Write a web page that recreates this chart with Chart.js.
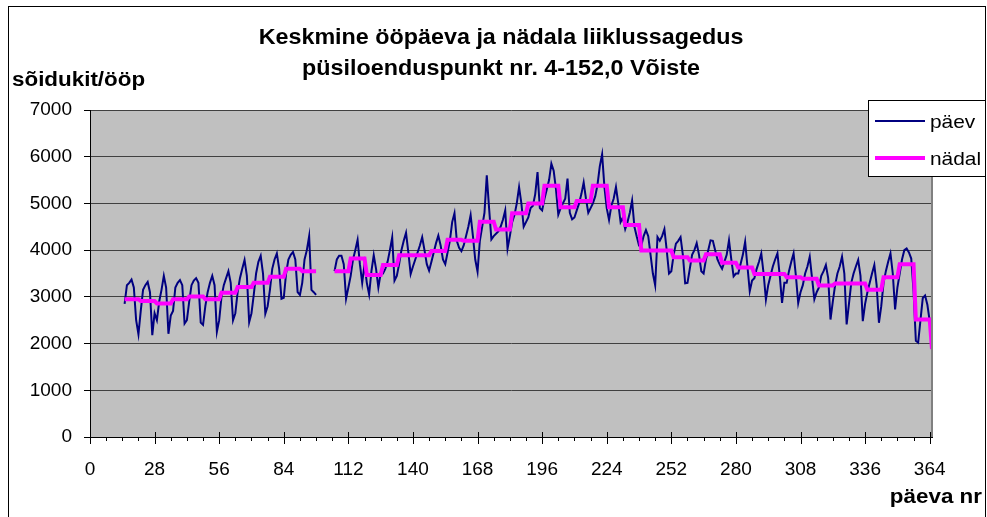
<!DOCTYPE html>
<html>
<head>
<meta charset="utf-8">
<title>Keskmine ööpäeva ja nädala liiklussagedus</title>
<script src="https://cdn.jsdelivr.net/npm/chart.js"></script>
<style>
  html, body { margin: 0; padding: 0; background: #fff; }
  #wrap { width: 987px; height: 517px; }
</style>
</head>
<body>
<div id="wrap"><canvas id="trafficChart" width="987" height="517"></canvas></div>
<script>
// päevad 15..365, päev 99-105 puudub
const firstDay = 15;

const paev = [
    2850, 3250, 3300, 3370, 3200, 2500, 2200,
    2700, 3150, 3250, 3320, 3100, 2180, 2650,
    2500, 2900, 3150, 3450, 3200, 2210, 2600,
    2700, 3200, 3300, 3360, 3250, 2430, 2500,
    2900, 3250, 3350, 3400, 3300, 2450, 2400,
    2800, 3100, 3300, 3450, 3250, 2250, 2500,
    3000, 3250, 3400, 3550, 3300, 2500, 2650,
    3100, 3400, 3600, 3790, 3450, 2460, 2650,
    3050, 3500, 3750, 3880, 3500, 2640, 2800,
    3150, 3600, 3800, 3930, 3600, 2960, 2980,
    3500, 3800, 3900, 3960, 3800, 3100, 3040,
    3300, 3800, 4000, 4300, 3150, 3100, 3040,
    null, null, null, null, null, null, null,
    3550, 3800, 3880, 3880, 3700, 2960, 3200,
    3450, 3800, 4000, 4220, 3700, 3300, 3700,
    3300, 3050, 3550, 3890, 3600, 3200, 3500,
    3500, 3600, 3750, 4000, 4275, 3350, 3450,
    3700, 4000, 4200, 4370, 3950, 3490, 3650,
    3800, 3950, 4100, 4275, 4000, 3700, 3560,
    3750, 3950, 4150, 4310, 4100, 3800, 3700,
    3950, 4200, 4600, 4790, 4200, 4050, 3980,
    4100, 4300, 4500, 4750, 4300, 3800, 3540,
    4200, 4500, 4800, 5600, 4900, 4230, 4300,
    4350, 4400, 4500, 4650, 4850, 4030, 4300,
    4600, 4750, 5000, 5350, 5000, 4500, 4600,
    4700, 4900, 4950, 5200, 5670, 4900, 4850,
    5100, 5300, 5500, 5850, 5700, 5300, 4760,
    4900, 5000, 5100, 5530, 4800, 4660, 4700,
    4850, 5000, 5200, 5450, 5100, 4800, 4900,
    5000, 5150, 5400, 5800, 6050, 5350, 4900,
    4650, 4950, 5100, 5350, 5000, 4600, 4700,
    4450, 4600, 4800, 5060, 4500, 4290, 4100,
    4100, 4300, 4430, 4300, 3900, 3500, 3250,
    4280, 4200, 4300, 4450, 4000, 3500, 3550,
    3900, 4140, 4200, 4280, 3900, 3290, 3300,
    3600, 3900, 4000, 4150, 3900, 3550, 3500,
    3800, 4000, 4210, 4200, 4000, 3800, 3690,
    3600, 3750, 3900, 4210, 3800, 3440, 3500,
    3500, 3700, 3900, 4180, 3650, 3120, 3350,
    3400, 3600, 3750, 3930, 3500, 2940, 3250,
    3450, 3650, 3800, 3930, 3450, 2870, 3300,
    3300, 3550, 3750, 3930, 3450, 2870, 3100,
    3250, 3500, 3650, 3860, 3400, 2950, 3100,
    3200, 3450, 3550, 3680, 3400, 2515, 2900,
    3250, 3500, 3650, 3860, 3500, 2410, 2850,
    3300, 3500, 3650, 3790, 3450, 2480, 2850,
    3100, 3300, 3500, 3680, 3250, 2445, 2800,
    3300, 3550, 3750, 3930, 3500, 2730, 3200,
    3500, 3800, 4000, 4035, 3950, 3820, 3120,
    2060, 2020, 2500, 2975, 3030, 2830, 2480,
    1900
];

// nädala keskmised, nädal 3..53 (nädal n = päevad 7n-6 .. 7n)
const firstWeek = 3;
const nadal = [
    2950, 2910, 2860, 2950, 3010, 2950, 3090, 3210, 3300, 3430, 3600, 3550,
    null,
    3550, 3820, 3470, 3680, 3890, 3890, 3980, 4220, 4200, 4610, 4440, 4790,
    5000, 5380, 4920, 5050, 5380, 4920, 4540, 3990, 3990, 3850, 3780, 3910,
    3730, 3630, 3490, 3490, 3420, 3385, 3245, 3285, 3285, 3150, 3420, 3700,
    2515, 1880
];

const xTicks = [0, 28, 56, 84, 112, 140, 168, 196, 224, 252, 280, 308, 336, 364];
const yTicks = [0, 1000, 2000, 3000, 4000, 5000, 6000, 7000];

const FONT = '"Liberation Sans", Arial, sans-serif';

const dailyPoints = paev.map((v, i) => ({ x: firstDay + i, y: v }));
const weeklyPoints = paev.map((v, i) => {
    const day = firstDay + i;
    const w = Math.ceil(day / 7);
    return { x: day, y: nadal[w - firstWeek] };
});

function drawText(ctx, text, x, y, font, align, sx) {
    ctx.save();
    ctx.font = font;
    ctx.fillStyle = '#000';
    ctx.textAlign = align;
    ctx.textBaseline = 'alphabetic';
    ctx.translate(x, y);
    ctx.scale(sx, 1);
    ctx.fillText(text, 0, 0);
    ctx.restore();
}

const excelLook = {
    id: 'excelLook',
    beforeDraw(chart) {
        const { ctx, chartArea: a } = chart;
        ctx.save();
        ctx.fillStyle = '#c0c0c0';
        ctx.fillRect(a.left, a.top, a.right - a.left, a.bottom - a.top);
        // outer frame
        ctx.strokeStyle = '#000';
        ctx.lineWidth = 1;
        ctx.strokeRect(8.5, 6.5, 977, 530);
        ctx.restore();
    },
    afterDraw(chart) {
        const { ctx, chartArea: a } = chart;
        const xs = chart.scales.x;
        ctx.save();
        // plot area right border
        ctx.strokeStyle = '#808080';
        ctx.lineWidth = 2;
        ctx.beginPath();
        ctx.moveTo(a.right, a.top);
        ctx.lineTo(a.right, a.bottom);
        ctx.stroke();
        // x axis tick marks: major every 28, minor every 7
        ctx.strokeStyle = '#000';
        ctx.lineWidth = 1;
        ctx.beginPath();
        for (let d = 0; d <= 364; d += 7) {
            const px = Math.round(xs.getPixelForValue(d)) + 0.5;
            const major = xTicks.includes(d);
            ctx.moveTo(px, a.bottom - (major ? 5 : 0));
            ctx.lineTo(px, a.bottom + (major ? 7 : 4));
        }
        ctx.stroke();
        ctx.restore();

        // titles
        drawText(ctx, 'Keskmine ööpäeva ja nädala liiklussagedus', 501, 44, 'bold 22px ' + FONT, 'center', 1.06);
        drawText(ctx, 'püsiloenduspunkt nr. 4-152,0 Võiste', 501, 75, 'bold 22px ' + FONT, 'center', 1.06);
        drawText(ctx, 'sõidukit/ööp', 12, 86, 'bold 20px ' + FONT, 'left', 1.12);
        drawText(ctx, 'päeva nr', 982, 503, 'bold 20px ' + FONT, 'right', 1.12);

        // legend
        const lx = 868, ly = 100, lw = 117, lh = 76;
        ctx.save();
        ctx.fillStyle = '#fff';
        ctx.fillRect(lx, ly, lw, lh);
        ctx.strokeStyle = '#000';
        ctx.lineWidth = 1;
        ctx.strokeRect(lx + 0.5, ly + 0.5, lw, lh);
        chart.data.datasets.forEach((ds, i) => {
            const yy = ly + 21 + i * 37;
            ctx.strokeStyle = ds.borderColor;
            ctx.lineWidth = ds.borderWidth;
            ctx.beginPath();
            ctx.moveTo(lx + 7, yy);
            ctx.lineTo(lx + 57, yy);
            ctx.stroke();
            drawText(ctx, ds.label, lx + 62, yy + 7, '19px ' + FONT, 'left', 1.1);
        });
        ctx.restore();
    }
};

const ctx = document.getElementById('trafficChart').getContext('2d');

const trafficChart = new Chart(ctx, {
    type: 'line',
    data: {
        datasets: [
            {
                label: 'päev',
                data: dailyPoints,
                borderColor: '#000080',
                borderWidth: 2,
                pointRadius: 0,
                tension: 0,
                spanGaps: false,
                order: 2
            },
            {
                label: 'nädal',
                data: weeklyPoints,
                borderColor: '#ff00ff',
                borderWidth: 4,
                pointRadius: 0,
                tension: 0,
                spanGaps: false,
                order: 1
            }
        ]
    },
    options: {
        responsive: false,
        animation: false,
        devicePixelRatio: 1,
        layout: {
            padding: { left: 0, top: 110, right: 55, bottom: 0 }
        },
        plugins: {
            legend: { display: false },
            title: { display: false },
            tooltip: { enabled: false }
        },
        scales: {
            x: {
                type: 'linear',
                min: 0,
                max: 365,
                afterBuildTicks: (scale) => { scale.ticks = xTicks.map(v => ({ value: v })); },
                afterFit: (scale) => { scale.height = 80; },
                grid: { display: false },
                border: { display: true, color: '#000', width: 1 },
                ticks: {
                    autoSkip: false,
                    maxRotation: 0,
                    padding: 13,
                    color: '#000',
                    font: { family: FONT, size: 19 },
                    callback: (v) => String(v)
                }
            },
            y: {
                min: 0,
                max: 7000,
                afterBuildTicks: (scale) => { scale.ticks = yTicks.map(v => ({ value: v })); },
                afterFit: (scale) => { scale.width = 90; },
                grid: {
                    color: '#404040',
                    lineWidth: 1,
                    drawTicks: true,
                    tickLength: 6,
                    tickColor: '#000'
                },
                border: { display: true, color: '#000', width: 1 },
                ticks: {
                    padding: 12,
                    color: '#000',
                    font: { family: FONT, size: 19 },
                    callback: (v) => String(v)
                }
            }
        }
    },
    plugins: [excelLook]
});
</script>
</body>
</html>
